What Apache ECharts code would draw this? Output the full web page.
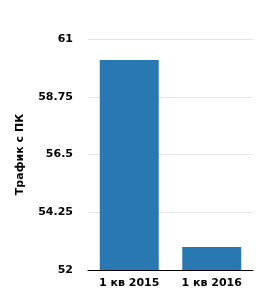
<!DOCTYPE html>
<html><head><meta charset="utf-8">
<script src="https://cdn.jsdelivr.net/npm/echarts@6/dist/echarts.min.js"></script>
<style>html,body{margin:0;padding:0;background:#fff}#c{width:264px;height:301px}</style>
</head><body><div id="c"></div>
<script>
var categories = ['1 кв 2015', '1 кв 2016'];
var values = [60.18, 52.9];
var yTicks = [52, 54.25, 56.5, 58.75, 61];
var yTitle = 'Трафик с ПК';

var chart = echarts.init(document.getElementById('c'));
var font = 'DejaVu Sans';
chart.setOption({
  animation: false,
  grid: {left: 88, right: 11, top: 39, bottom: 31},
  xAxis: {
    type: 'category', data: categories,
    axisLine: {lineStyle: {color: '#000', width: 1}},
    axisTick: {show: false},
    axisLabel: {color: '#000', fontFamily: font, fontWeight: 'bold', fontSize: 11, margin: 8}
  },
  yAxis: {
    type: 'value', min: yTicks[0], max: yTicks[yTicks.length - 1], interval: 2.25,
    name: yTitle, nameLocation: 'middle', nameGap: 62,
    nameTextStyle: {color: '#000', fontFamily: font, fontWeight: 'bold', fontSize: 11},
    axisLine: {show: false}, axisTick: {show: false},
    axisLabel: {color: '#000', fontFamily: font, fontWeight: 'bold', fontSize: 11, margin: 15,
      formatter: function (v) { return String(+v.toFixed(2)); }},
    splitLine: {lineStyle: {color: '#e6e6e6'}}
  },
  series: [{
    type: 'bar', data: values, barWidth: '71.5%',
    itemStyle: {color: '#2a78b2'}
  }]
});
</script></body></html>
